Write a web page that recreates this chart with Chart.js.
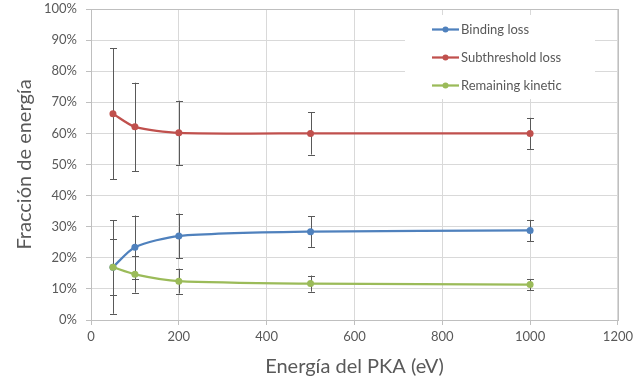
<!DOCTYPE html>
<html>
<head>
<meta charset="utf-8">
<script src="https://cdn.jsdelivr.net/npm/chart.js@4"></script>
<style>
  body { margin: 0; background: #fff; }
  #wrap { width: 637px; height: 383px; }
</style>
</head>
<body>
<div id="wrap"><canvas id="energyChart"></canvas></div>
<script>
// PKA energies (eV)
const energies = [50, 100, 200, 500, 1000];

// fractions (%) and error half-widths
const bindingLoss = [17.0, 23.4, 27.0, 28.4, 28.8];
const bindingErr = [9.0, 10.2, 7.2, 4.9, 3.4];
const subthresholdLoss = [66.3, 62.1, 60.2, 60.0, 60.0];
const subthresholdErr = [21.0, 14.2, 10.3, 6.8, 5.0];
const remainingKinetic = [17.0, 14.7, 12.5, 11.7, 11.4];
const remainingErr = [15.0, 5.9, 4.0, 2.6, 1.8];

const seriesNames = ["Binding loss", "Subthreshold loss", "Remaining kinetic"];
const seriesColors = ["#4F81BD", "#C0504D", "#9BBB59"];

const txtColor = "#595959";
const fontFam = "Lato, 'Open Sans', sans-serif";

function toPoints(vals) {
  return energies.map((e, i) => ({ x: e, y: vals[i] }));
}

// vertical error bars with caps, drawn through the scales
const errorBars = {
  id: "errorBars",
  beforeDatasetsDraw(chart) {
    const ctx = chart.ctx;
    const xs = chart.scales.x, ys = chart.scales.y;
    ctx.save();
    ctx.strokeStyle = "#595959";
    ctx.lineWidth = 1;
    chart.data.datasets.forEach(ds => {
      ds.data.forEach((p, i) => {
        const px = Math.round(xs.getPixelForValue(p.x)) + 0.5;
        const top = ys.getPixelForValue(p.y + ds.err[i]);
        const bot = ys.getPixelForValue(p.y - ds.err[i]);
        ctx.beginPath();
        ctx.moveTo(px, top);
        ctx.lineTo(px, bot);
        ctx.moveTo(px - 3.5, Math.round(top) + 0.5);
        ctx.lineTo(px + 3.5, Math.round(top) + 0.5);
        ctx.moveTo(px - 3.5, Math.round(bot) + 0.5);
        ctx.lineTo(px + 3.5, Math.round(bot) + 0.5);
        ctx.stroke();
      });
    });
    ctx.restore();
  }
};

// legend box inside the plot, top right
const innerLegend = {
  id: "innerLegend",
  afterDraw(chart) {
    const ctx = chart.ctx;
    const x0 = 405, y0 = 15;
    ctx.save();
    ctx.fillStyle = "#fff";
    ctx.fillRect(x0, y0, 190, 84);
    ctx.font = "13px " + fontFam;
    ctx.textBaseline = "middle";
    seriesNames.forEach((name, i) => {
      const y = 29.5 + i * 28;
      ctx.strokeStyle = seriesColors[i];
      ctx.lineWidth = 2.25;
      ctx.beginPath();
      ctx.moveTo(432, y);
      ctx.lineTo(459, y);
      ctx.stroke();
      ctx.fillStyle = seriesColors[i];
      ctx.beginPath();
      ctx.arc(445.5, y, 3, 0, Math.PI * 2);
      ctx.fill();
      ctx.fillStyle = txtColor;
      ctx.fillText(name, 461, y);
    });
    ctx.restore();
  }
};

const datasets = [bindingLoss, subthresholdLoss, remainingKinetic].map((vals, i) => ({
  label: seriesNames[i],
  data: toPoints(vals),
  err: [bindingErr, subthresholdErr, remainingErr][i],
  borderColor: seriesColors[i],
  backgroundColor: seriesColors[i],
  borderWidth: 2.25,
  pointRadius: 3.5,
  pointBorderWidth: 0,
  tension: 0.25,
  order: 2 - i
}));

new Chart(document.getElementById("energyChart"), {
  type: "line",
  data: { datasets },
  options: {
    responsive: true,
    maintainAspectRatio: false,
    animation: false,
    layout: { padding: { top: 9, right: 10, left: 13, bottom: 4 } },
    plugins: {
      legend: { display: false },
      tooltip: { enabled: false }
    },
    scales: {
      x: {
        type: "linear",
        min: 0,
        max: 1200,
        ticks: { stepSize: 200, color: txtColor, font: { family: fontFam, size: 13 }, padding: 4, maxRotation: 0, callback: v => String(v) },
        grid: { color: "#D9D9D9", tickLength: 5, tickColor: "#BFBFBF" },
        border: { color: "#BFBFBF" },
        title: { display: true, text: "Energía del PKA (eV)", color: txtColor, font: { family: fontFam, size: 20 }, padding: { top: 2, bottom: 0 } },
        afterFit(s) { s.height = 59; }
      },
      y: {
        min: 0,
        max: 100,
        ticks: { stepSize: 10, color: txtColor, font: { family: fontFam, size: 13 }, padding: 9, callback: v => v + "%" },
        grid: { color: "#D9D9D9", tickLength: 5, tickColor: "#BFBFBF" },
        border: { color: "#BFBFBF" },
        title: { display: true, text: "Fracción de energía", color: txtColor, font: { family: fontFam, size: 20 }, padding: { top: 0, bottom: 4 } },
        afterFit(s) { s.width = 78; s.paddingTop = 0; s.paddingBottom = 0; }
      }
    }
  },
  plugins: [errorBars, innerLegend, {
    id: "frame",
    afterDraw(chart) {
      const a = chart.chartArea, ctx = chart.ctx;
      ctx.save();
      ctx.strokeStyle = "#BFBFBF";
      ctx.lineWidth = 1;
      ctx.strokeRect(Math.round(a.left) + 0.5, Math.round(a.top) + 0.5, Math.round(a.right - a.left), Math.round(a.bottom - a.top));
      ctx.restore();
    }
  }]
});
</script>
</body>
</html>
